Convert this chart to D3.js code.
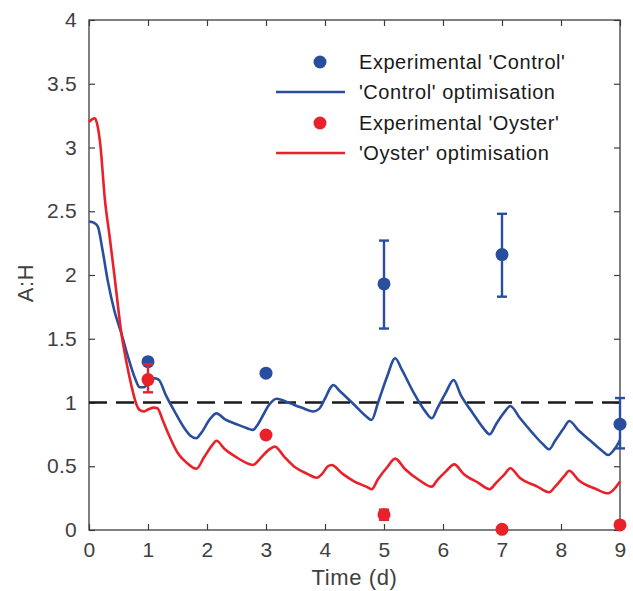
<!DOCTYPE html>
<html>
<head>
<meta charset="utf-8">
<script src="https://cdn.jsdelivr.net/npm/d3@7"></script>
<style>
  body { margin: 0; background: #fff; }
  svg { display: block; font-family: "Liberation Sans", Arial, Helvetica, sans-serif; }
</style>
</head>
<body>
<svg id="chart" width="633" height="591"></svg>
<script>
// Model optimisation curves (time in days, A:H ratio)
const controlTime = [0, 0.08, 0.15, 0.22, 0.32, 0.43, 0.55, 0.66, 0.78, 0.86, 0.93, 1.0, 1.1, 1.18, 1.3, 1.45, 1.6, 1.72, 1.82, 1.9, 2.05, 2.16, 2.3, 2.5, 2.7, 2.78, 2.85, 2.95, 3.05, 3.18, 3.4, 3.6, 3.8, 3.9, 4.0, 4.1, 4.14, 4.25, 4.5, 4.7, 4.79, 4.9, 5.05, 5.19, 5.3, 5.5, 5.7, 5.81, 5.9, 6.05, 6.18, 6.3, 6.5, 6.7, 6.79, 6.9, 7.05, 7.14, 7.3, 7.5, 7.7, 7.8, 7.9, 8.05, 8.14, 8.3, 8.5, 8.7, 8.8, 8.9, 9.0];
const controlFit = [2.42, 2.41, 2.38, 2.22, 1.95, 1.72, 1.54, 1.36, 1.19, 1.12, 1.12, 1.15, 1.19, 1.18, 1.06, 0.93, 0.81, 0.74, 0.72, 0.76, 0.87, 0.915, 0.87, 0.83, 0.795, 0.785, 0.82, 0.90, 0.98, 1.03, 0.995, 0.96, 0.93, 0.95, 1.03, 1.12, 1.137, 1.09, 0.98, 0.89, 0.863, 1.0, 1.2, 1.347, 1.26, 1.08, 0.93, 0.876, 0.95, 1.08, 1.176, 1.06, 0.92, 0.79, 0.75, 0.83, 0.93, 0.973, 0.88, 0.77, 0.67, 0.633, 0.70, 0.80, 0.855, 0.78, 0.70, 0.62, 0.588, 0.63, 0.706];

const oysterTime = [0, 0.05, 0.1, 0.14, 0.19, 0.27, 0.35, 0.43, 0.55, 0.65, 0.72, 0.8, 0.86, 0.93, 1.0, 1.1, 1.16, 1.25, 1.34, 1.51, 1.65, 1.82, 1.95, 2.08, 2.16, 2.3, 2.5, 2.7, 2.78, 2.9, 3.05, 3.15, 3.3, 3.5, 3.7, 3.86, 3.95, 4.05, 4.11, 4.3, 4.5, 4.7, 4.79, 4.9, 5.05, 5.19, 5.35, 5.6, 5.81, 5.9, 6.05, 6.19, 6.35, 6.6, 6.79, 6.9, 7.05, 7.14, 7.3, 7.6, 7.8, 7.9, 8.05, 8.14, 8.3, 8.6, 8.8, 8.9, 9.0];
const oysterFit = [3.20, 3.22, 3.23, 3.18, 3.03, 2.59, 2.30, 2.00, 1.54, 1.28, 1.13, 0.99, 0.94, 0.93, 0.945, 0.96, 0.955, 0.86, 0.76, 0.60, 0.53, 0.48, 0.57, 0.66, 0.70, 0.635, 0.57, 0.52, 0.51, 0.56, 0.63, 0.654, 0.58, 0.49, 0.44, 0.41, 0.44, 0.50, 0.51, 0.44, 0.38, 0.34, 0.32, 0.40, 0.49, 0.56, 0.48, 0.39, 0.34, 0.39, 0.46, 0.515, 0.44, 0.37, 0.32, 0.37, 0.44, 0.484, 0.41, 0.34, 0.296, 0.34, 0.42, 0.465, 0.39, 0.32, 0.288, 0.32, 0.38];

// Experimental measurements with error bars (low / high)
const sampleDays = [1, 3, 5, 7, 9];
const controlMean = [1.32, 1.23, 1.93, 2.16, 0.83];
const controlLow  = [1.32, 1.23, 1.58, 1.83, 0.64];
const controlHigh = [1.32, 1.23, 2.27, 2.48, 1.035];
const oysterMean = [1.18, 0.745, 0.12, 0.005, 0.04];
const oysterLow  = [1.08, 0.73, 0.08, 0.0, 0.03];
const oysterHigh = [1.30, 0.76, 0.16, 0.01, 0.05];

const xTicks = [0, 1, 2, 3, 4, 5, 6, 7, 8, 9];
const yTicks = [0, 0.5, 1, 1.5, 2, 2.5, 3, 3.5, 4];
const threshold = 1;

const legendLabels = ["Experimental 'Control'", "'Control' optimisation", "Experimental 'Oyster'", "'Oyster' optimisation"];

const blue = "#2a4e9e";
const red = "#e8212a";
const axisColor = "#3c3c3c";
const textColor = "#404040";

const margin = { left: 89, top: 20, right: 13, bottom: 61 };
const W = 633, H = 591;
const iw = W - margin.left - margin.right;
const ih = H - margin.top - margin.bottom;

const svg = d3.select("#chart");
const g = svg.append("g").attr("transform", `translate(${margin.left},${margin.top})`);

const x = d3.scaleLinear().domain([0, 9]).range([0, iw]);
const y = d3.scaleLinear().domain([0, 4]).range([ih, 0]);

// Axes with inward ticks on all four sides
function styleAxis(sel, showText) {
  sel.attr("font-family", null).attr("font-size", null);
  sel.select(".domain").remove();
  sel.selectAll(".tick line").attr("stroke", axisColor).attr("stroke-width", 1.2);
  if (showText) {
    sel.selectAll(".tick text").attr("fill", textColor)
      .style("font-size", "21px").style("letter-spacing", "0.3px");
  } else {
    sel.selectAll(".tick text").remove();
  }
}

g.append("g").attr("transform", `translate(0,${ih})`)
  .call(d3.axisBottom(x).tickValues(xTicks).tickSize(-6).tickPadding(12).tickFormat(d3.format("d")))
  .call(s => styleAxis(s, true));
g.append("g")
  .call(d3.axisTop(x).tickValues(xTicks).tickSize(-6))
  .call(s => styleAxis(s, false));
g.append("g")
  .call(d3.axisLeft(y).tickValues(yTicks).tickSize(-6).tickPadding(12).tickFormat(d => d3.format("~g")(d)))
  .call(s => styleAxis(s, true));
g.append("g").attr("transform", `translate(${iw},0)`)
  .call(d3.axisRight(y).tickValues(yTicks).tickSize(-6))
  .call(s => styleAxis(s, false));

// Frame
g.append("rect").attr("x", 0).attr("y", 0).attr("width", iw).attr("height", ih)
  .attr("fill", "none").attr("stroke", axisColor).attr("stroke-width", 1.3);

// Threshold A:H = 1
g.append("line")
  .attr("x1", x(0)).attr("x2", x(9))
  .attr("y1", y(threshold)).attr("y2", y(threshold))
  .attr("stroke", "#1a1a1a").attr("stroke-width", 2.4).attr("stroke-dasharray", "18,9");

// Optimisation curves
const line = d3.line().x(d => x(d[0])).y(d => y(d[1])).curve(d3.curveMonotoneX);
g.append("path").datum(d3.zip(controlTime, controlFit))
  .attr("d", line).attr("fill", "none").attr("stroke", blue).attr("stroke-width", 2.6)
  .attr("stroke-linejoin", "round");
g.append("path").datum(d3.zip(oysterTime, oysterFit))
  .attr("d", line).attr("fill", "none").attr("stroke", red).attr("stroke-width", 2.6)
  .attr("stroke-linejoin", "round");

// Experimental points with error bars
function drawSamples(mean, low, high, color) {
  const grp = g.append("g");
  sampleDays.forEach((t, i) => {
    const cx = x(t);
    if (high[i] - low[i] > 0.001) {
      grp.append("line").attr("x1", cx).attr("x2", cx).attr("y1", y(low[i])).attr("y2", y(high[i]))
        .attr("stroke", color).attr("stroke-width", 2.4);
      [low[i], high[i]].forEach(v => {
        grp.append("line").attr("x1", cx - 5).attr("x2", cx + 5).attr("y1", y(v)).attr("y2", y(v))
          .attr("stroke", color).attr("stroke-width", 2.4);
      });
    }
    grp.append("circle").attr("cx", cx).attr("cy", y(mean[i])).attr("r", 6.5).attr("fill", color);
  });
}
drawSamples(controlMean, controlLow, controlHigh, blue);
drawSamples(oysterMean, oysterLow, oysterHigh, red);

// Axis titles
svg.append("text").attr("x", margin.left + iw / 2).attr("y", 585)
  .attr("text-anchor", "middle").attr("fill", textColor)
  .style("font-size", "22px").style("letter-spacing", "0.6px").text("Time (d)");
svg.append("text").attr("transform", "translate(33,283) rotate(-90)")
  .attr("text-anchor", "middle").attr("fill", textColor)
  .style("font-size", "22px").style("letter-spacing", "0.6px").text("A:H");

// Legend
const legend = svg.append("g");
const rowY = [62, 92, 123, 153];
const kinds = ["dot", "line", "dot", "line"];
const colors = [blue, blue, red, red];
legendLabels.forEach((lab, i) => {
  if (kinds[i] === "dot") {
    legend.append("circle").attr("cx", 320).attr("cy", rowY[i]).attr("r", 6.5).attr("fill", colors[i]);
  } else {
    legend.append("line").attr("x1", 276).attr("x2", 345).attr("y1", rowY[i]).attr("y2", rowY[i])
      .attr("stroke", colors[i]).attr("stroke-width", 2.6);
  }
  legend.append("text").attr("x", 359).attr("y", rowY[i]).attr("dy", "0.35em")
    .attr("fill", "#1a1a1a").style("font-size", "20px").style("letter-spacing", "0.55px").text(lab);
});
</script>
</body>
</html>
